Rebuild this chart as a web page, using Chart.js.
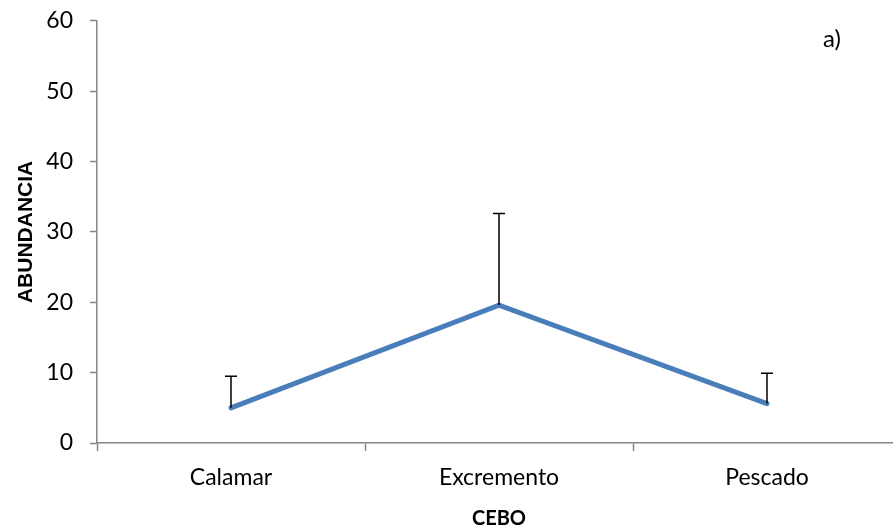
<!DOCTYPE html>
<html>
<head>
<meta charset="utf-8">
<script src="https://cdn.jsdelivr.net/npm/chart.js@4/dist/chart.umd.min.js"></script>
<style>
  html, body { margin: 0; padding: 0; background: #fff; overflow: hidden; }
  #wrap { width: 901px; height: 543px; margin-top: -10px; }
</style>
</head>
<body>
<div id="wrap"><canvas id="cebo"></canvas></div>
<script>
const categories = ['Calamar', 'Excremento', 'Pescado'];
const abundance = [5.0, 19.6, 5.6];
const errorUp = [4.5, 13.0, 4.3];
const yTicks = [0, 10, 20, 30, 40, 50, 60];

const fontFam = 'Lato, "Open Sans", sans-serif';

// draws the upper error bars with the chart's own scales
const errorBars = {
    id: 'errorBars',
    afterDatasetsDraw(chart) {
        const {ctx, scales: {x, y}} = chart;
        ctx.save();
        ctx.strokeStyle = '#000';
        ctx.lineWidth = 1.5;
        abundance.forEach((v, i) => {
            const px = x.getPixelForValue(i);
            const y0 = y.getPixelForValue(v);
            const y1 = y.getPixelForValue(v + errorUp[i]);
            ctx.beginPath();
            ctx.moveTo(px, y0);
            ctx.lineTo(px, y1);
            ctx.moveTo(px - 6, y1);
            ctx.lineTo(px + 6, y1);
            ctx.stroke();
        });
        ctx.restore();
    }
};

const panelLabel = {
    id: 'panelLabel',
    afterDraw(chart) {
        const {ctx, chartArea} = chart;
        ctx.save();
        ctx.font = '24px ' + fontFam;
        ctx.fillStyle = '#000';
        ctx.textAlign = 'center';
        ctx.textBaseline = 'middle';
        ctx.fillText('a)', 832, chartArea.top + 18);
        ctx.restore();
    }
};

new Chart(document.getElementById('cebo'), {
    type: 'line',
    data: {
        labels: categories,
        datasets: [{
            data: abundance,
            borderColor: '#4A7EBB',
            borderWidth: 5,
            pointRadius: 0,
            tension: 0,
            borderCapStyle: 'round'
        }]
    },
    options: {
        responsive: true,
        maintainAspectRatio: false,
        animation: false,
        layout: {padding: {top: 0, right: 0, left: 0, bottom: 2}},
        plugins: {
            legend: {display: false},
            tooltip: {enabled: false}
        },
        scales: {
            x: {
                offset: true,
                grid: {
                    offset: true,
                    drawOnChartArea: false,
                    drawTicks: true,
                    tickLength: 8,
                    tickWidth: 1.5,
                    tickColor: '#868686'
                },
                border: {color: '#868686', width: 1.5},
                ticks: {
                    color: '#000',
                    font: {family: fontFam, size: 23},
                    padding: 13
                },
                title: {
                    display: true,
                    text: 'CEBO',
                    color: '#000',
                    font: {family: fontFam, size: 20, weight: 'bold'},
                    padding: {top: 12, bottom: 0}
                },
                afterFit(scale) { scale.height = 88; }
            },
            y: {
                min: 0,
                max: 60,
                afterBuildTicks(scale) {
                    scale.ticks = yTicks.map(v => ({value: v}));
                },
                grid: {
                    drawOnChartArea: false,
                    tickLength: 7,
                    tickWidth: 1.5,
                    tickColor: '#868686'
                },
                border: {color: '#868686', width: 1.5},
                ticks: {
                    color: '#000',
                    font: {family: fontFam, size: 23},
                    padding: 17
                },
                title: {
                    display: true,
                    text: 'ABUNDANCIA',
                    color: '#000',
                    font: {family: '"Liberation Sans", Arial, sans-serif', size: 21, weight: 'bold'},
                    padding: {top: 14, bottom: 0}
                },
                afterFit(scale) { scale.width = 97; }
            }
        }
    },
    plugins: [errorBars, panelLabel]
});
</script>
</body>
</html>
